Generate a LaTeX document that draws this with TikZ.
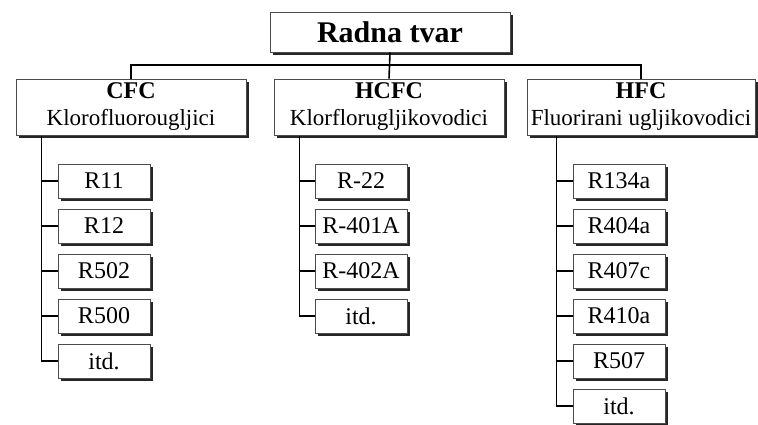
\documentclass[tikz,border=0pt]{standalone}
\usepackage{fontspec}
\setmainfont{Liberation Serif}
\usetikzlibrary{positioning, shadows}

\begin{document}
\begin{tikzpicture}[x=0.5pt, y=-0.5pt, line width=0.8pt,
  box/.style={draw=black!70, line width=0.5pt, fill=white, inner sep=1pt,
    drop shadow={shadow xshift=1.5pt, shadow yshift=-1.5pt, fill=black!85, opacity=1}},
  group/.style={box, minimum width=115pt, minimum height=28pt, align=center, font=\fontsize{11.5}{13.5}\selectfont},
  item/.style={box, minimum width=46pt, minimum height=17pt, font=\fontsize{12}{14}\selectfont}]
  \useasboundingbox (0,0) rectangle (758,424);
  \node[box, minimum width=120pt, minimum height=20pt, font=\fontsize{15}{17}\bfseries] (root) at (390,32) {Radna tvar};
  \node[group] (cfc) at (131,107) {\textbf{\fontsize{12}{14}\selectfont CFC}\\Klorofluorougljici};
  \node[group] (hcfc) at (389,107) {\textbf{\fontsize{12}{14}\selectfont HCFC}\\Klorflorugljikovodici};
  \node[group, minimum width=114pt] (hfc) at (641,107) {\textbf{\fontsize{12}{14}\selectfont HFC}\\Fluorirani ugljikovodici};
  \coordinate (bus) at (388,65);
  \draw (root.south) -- (hcfc.north);
  \draw (cfc.north) |- (bus) -| (hfc.north);
  % refrigerants under each group
  \foreach \lbl [count=\i] in {R11, R12, R502, R500, itd.}
    \node[item] (cfc-\i) at (104,136+45*\i) {\lbl};
  \foreach \lbl [count=\i] in {R-22, R-401A, R-402A, itd.}
    \node[item] (hcfc-\i) at (361,136+45*\i) {\lbl};
  \foreach \lbl [count=\i] in {R134a, R404a, R407c, R410a, R507, itd.}
    \node[item] (hfc-\i) at (619,136+45*\i) {\lbl};
  \draw ([xshift=-8pt]cfc-1.west |- cfc.south) |- (cfc-5.west);
  \draw ([xshift=-7.5pt]hcfc-1.west |- hcfc.south) |- (hcfc-4.west);
  \draw ([xshift=-8pt]hfc-1.west |- hfc.south) |- (hfc-6.west);
  \foreach \i in {1,...,4} \draw ([xshift=-8pt]cfc-\i.west) -- (cfc-\i.west);
  \foreach \i in {1,...,3} \draw ([xshift=-7.5pt]hcfc-\i.west) -- (hcfc-\i.west);
  \foreach \i in {1,...,5} \draw ([xshift=-8pt]hfc-\i.west) -- (hfc-\i.west);
\end{tikzpicture}
\end{document}
